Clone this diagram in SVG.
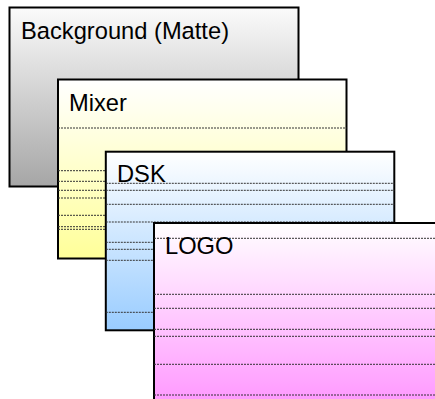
<svg xmlns="http://www.w3.org/2000/svg" width="435" height="399" viewBox="0 0 435 399">
<style>
.box{stroke:#000;stroke-width:2}
.rule{stroke:#333;stroke-width:1;stroke-dasharray:2 1;fill:none}
.lbl{font-family:"Liberation Sans",Arial,sans-serif;font-size:23.7px;fill:#000}
</style>
<defs>
<linearGradient id="gGrey" x1="0" y1="0" x2="0" y2="1"><stop offset="0" stop-color="#fbfbfb"/><stop offset="1" stop-color="#a6a6a6"/></linearGradient>
<linearGradient id="gYellow" x1="0" y1="0" x2="0" y2="1"><stop offset="0" stop-color="#ffffff"/><stop offset="1" stop-color="#ffff99"/></linearGradient>
<linearGradient id="gBlue" x1="0" y1="0" x2="0" y2="1"><stop offset="0" stop-color="#ffffff"/><stop offset="1" stop-color="#99ccff"/></linearGradient>
<linearGradient id="gPink" x1="0" y1="0" x2="0" y2="1"><stop offset="0" stop-color="#ffffff"/><stop offset="1" stop-color="#ff99ff"/></linearGradient>
</defs>
<g id="background">
<rect class="box" x="9.5" y="7.5" width="289" height="179" fill="url(#gGrey)"/>
<text class="lbl" x="21" y="39">Background (Matte)</text>
</g>
<g id="mixer">
<rect class="box" x="58" y="79.5" width="288.5" height="179" fill="url(#gYellow)"/>
<g class="rule">
<line x1="58" y1="128" x2="346.5" y2="128"/>
<line x1="58" y1="170.7" x2="346.5" y2="170.7"/>
<line x1="58" y1="181.3" x2="346.5" y2="181.3"/>
<line x1="58" y1="190.3" x2="346.5" y2="190.3"/>
<line x1="58" y1="198" x2="346.5" y2="198"/>
<line x1="58" y1="215.3" x2="346.5" y2="215.3"/>
<line x1="58" y1="226.7" x2="346.5" y2="226.7"/>
<line x1="58" y1="229.3" x2="346.5" y2="229.3"/>
</g>
<text class="lbl" x="69" y="111">Mixer</text>
</g>
<g id="dsk">
<rect class="box" x="105.8" y="151.7" width="288.5" height="178.6" fill="url(#gBlue)"/>
<g class="rule">
<line x1="105.8" y1="183.3" x2="394.3" y2="183.3"/>
<line x1="105.8" y1="190.3" x2="394.3" y2="190.3"/>
<line x1="105.8" y1="204.3" x2="394.3" y2="204.3"/>
<line x1="105.8" y1="222" x2="394.3" y2="222"/>
<line x1="105.8" y1="242.3" x2="394.3" y2="242.3"/>
<line x1="105.8" y1="249.3" x2="394.3" y2="249.3"/>
<line x1="105.8" y1="260.3" x2="394.3" y2="260.3"/>
<line x1="105.8" y1="312.3" x2="394.3" y2="312.3"/>
</g>
<text class="lbl" x="117" y="181.7">DSK</text>
</g>
<g id="logo">
<rect class="box" x="154" y="223" width="288.5" height="179" fill="url(#gPink)"/>
<g class="rule">
<line x1="154" y1="238.3" x2="442.5" y2="238.3"/>
<line x1="154" y1="294.3" x2="442.5" y2="294.3"/>
<line x1="154" y1="308.3" x2="442.5" y2="308.3"/>
<line x1="154" y1="329.3" x2="442.5" y2="329.3"/>
<line x1="154" y1="336.3" x2="442.5" y2="336.3"/>
<line x1="154" y1="364.3" x2="442.5" y2="364.3"/>
<line x1="154" y1="395" x2="442.5" y2="395"/>
</g>
<text class="lbl" x="165" y="254">LOGO</text>
</g>
<g id="connectors"/>
</svg>
